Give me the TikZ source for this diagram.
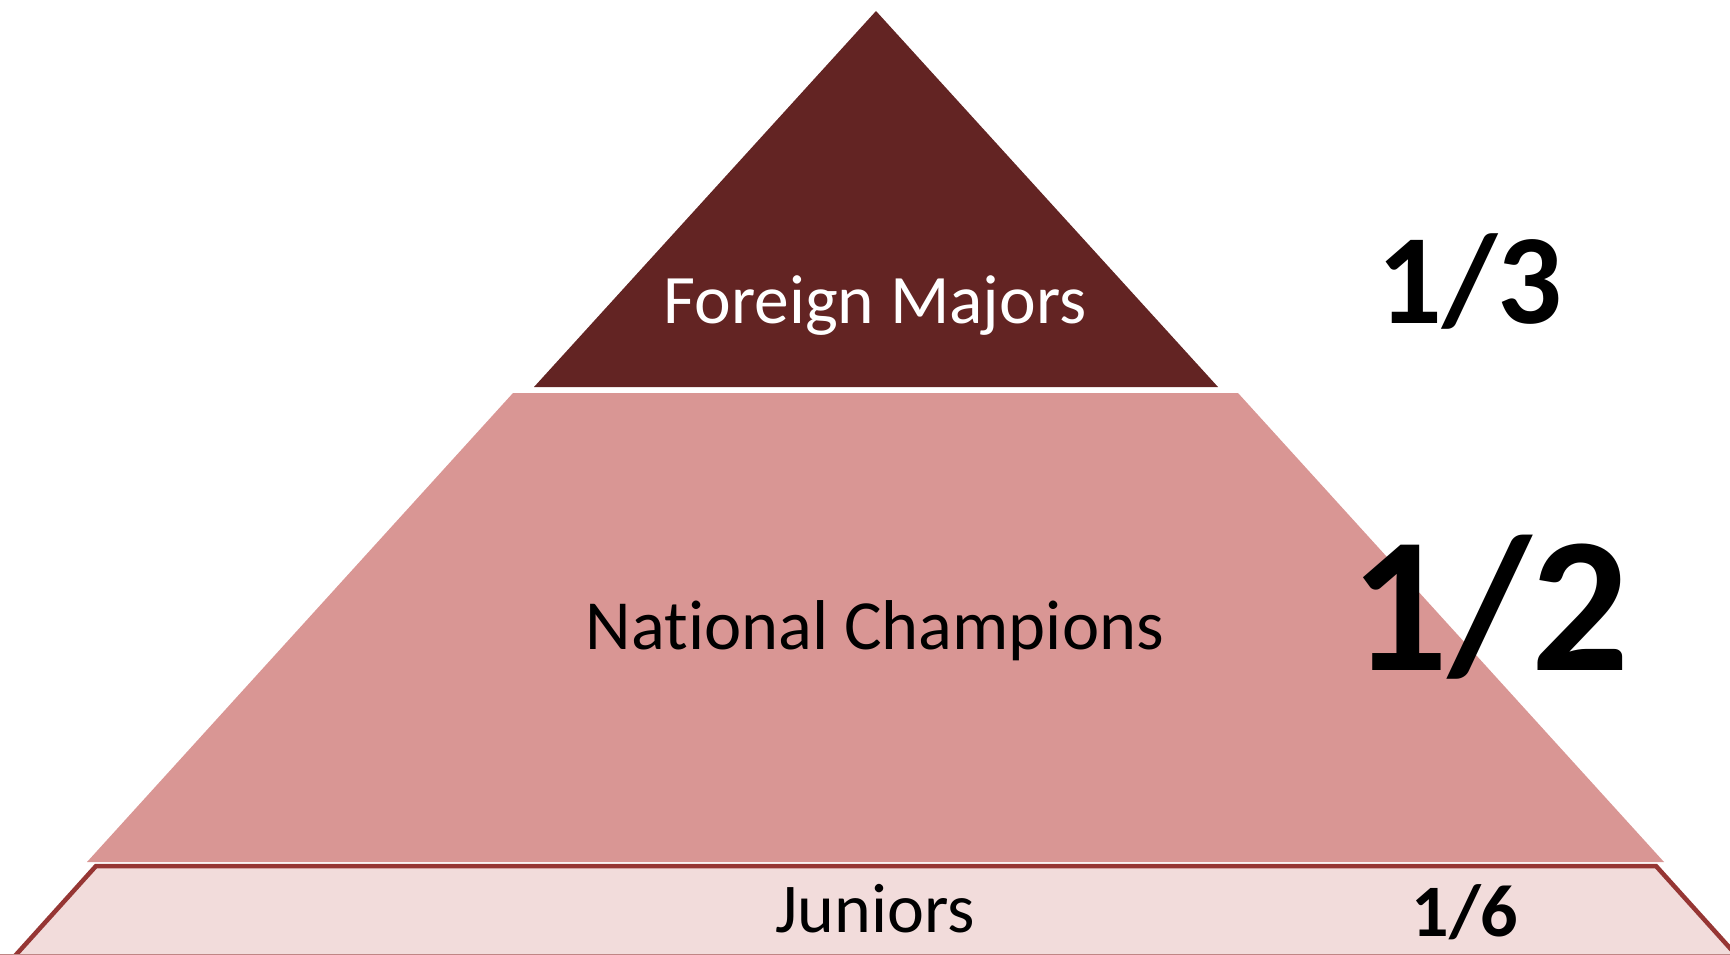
\documentclass[tikz,border=0pt]{standalone}
\usepackage{fontspec}
\setmainfont{Carlito}[Ligatures=NoCommon]
\definecolor{topc}{HTML}{632423}
\definecolor{midc}{HTML}{D99694}
\definecolor{botc}{HTML}{F2DCDB}
\definecolor{edgec}{HTML}{963634}
\tikzset{
  lbl/.style={inner sep=0pt, anchor=base},
  frac/.style={inner sep=0pt, anchor=base, font=\bfseries},
}
\begin{document}
\begin{tikzpicture}[x=1pt,y=-1pt]
\useasboundingbox (0,0) rectangle (1730,955);
\clip (0,0) rectangle (1730,955);
% bottom strip
\draw[fill=botc, draw=edgec, line width=4.5pt, line join=miter]
  (14,957) -- (96,866) -- (1656,866) -- (1738,957);
\draw[edgec!60, line width=1pt] (0,954.5) -- (1730,954.5);
% middle
\fill[midc] (87,862) -- (513,393) -- (1238,393) -- (1664,862) -- cycle;
% top
\fill[topc] (876,11) -- (534,387) -- (1218,387) -- cycle;
% labels
\node[lbl, text=white, font=\fontsize{69.5}{80}\selectfont] (fm) at (875,323) {Foreign Majors};
\node[lbl, font=\fontsize{70.5}{84}\selectfont] (nc) at (875,649) {National Champions};
\node[lbl, font=\fontsize{70}{82}\selectfont] (jr) at (875,932) {Juniors};
\node[frac, font=\bfseries\fontsize{128}{150}\selectfont] (f3) at (1470,323) {1/3};
\node[frac, font=\bfseries\fontsize{193}{220}\selectfont] (f2) at (1490,670) {1/2};
\node[frac, font=\bfseries\fontsize{74}{88}\selectfont] (f6) at (1465,936) {1/6};
\end{tikzpicture}
\end{document}
